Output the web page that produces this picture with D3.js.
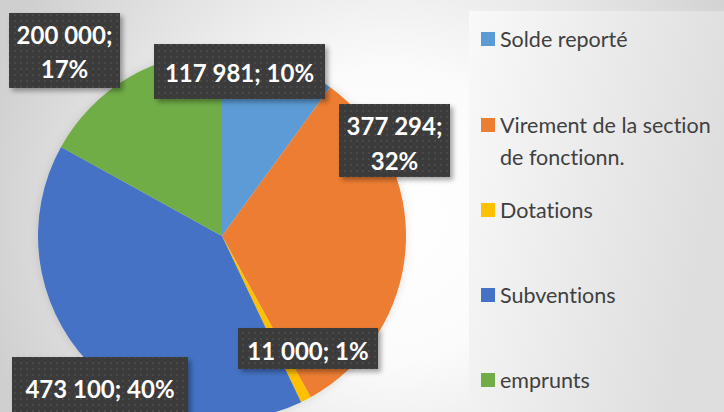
<!DOCTYPE html>
<html><head><meta charset="utf-8">
<script src="https://cdn.jsdelivr.net/npm/d3@7"></script>
<style>html,body{margin:0;padding:0;overflow:hidden;background:#fff} text{font-variant-ligatures:none;font-feature-settings:"liga" 0,"clig" 0}</style>
</head><body>
<script>
const categories = ["Solde reporté", "Virement de la section de fonctionn.", "Dotations", "Subventions", "emprunts"];
const legendLines = [["Solde reporté"], ["Virement de la section", "de fonctionn."], ["Dotations"], ["Subventions"], ["emprunts"]];
const values = [117981, 377294, 11000, 473100, 200000];
const valueLabels = ["117 981", "377 294", "11 000", "473 100", "200 000"];
const colors = ["#5B9BD5", "#ED7D31", "#FFC000", "#4472C4", "#70AD47"];

const W = 724, H = 412;
const svg = d3.select("body").append("svg").attr("width", W).attr("height", H);
const defs = svg.append("defs");

const rg = defs.append("radialGradient").attr("id", "bg").attr("gradientUnits", "userSpaceOnUse")
  .attr("cx", 390).attr("cy", 215).attr("r", 420);
rg.append("stop").attr("offset", "0%").attr("stop-color", "#ffffff");
rg.append("stop").attr("offset", "35%").attr("stop-color", "#fbfbfb");
rg.append("stop").attr("offset", "100%").attr("stop-color", "#cfcfcf");
svg.append("rect").attr("width", W).attr("height", H).attr("fill", "url(#bg)");

const lg = defs.append("linearGradient").attr("id", "lgp").attr("x1", "0").attr("x2", "1").attr("y1", "0").attr("y2", "0.3");
lg.append("stop").attr("offset", "0%").attr("stop-color", "#f9f9f9");
lg.append("stop").attr("offset", "100%").attr("stop-color", "#dedede");

const pat = defs.append("pattern").attr("id", "dots").attr("patternUnits", "userSpaceOnUse").attr("width", 6).attr("height", 6);
pat.append("rect").attr("width", 6).attr("height", 6).attr("fill", "#3b3b3b");
pat.append("rect").attr("x", 2).attr("y", 2).attr("width", 2).attr("height", 2).attr("fill", "#4a4a4a");

const sh = defs.append("filter").attr("id", "shadow").attr("x", "-20%").attr("y", "-20%").attr("width", "150%").attr("height", "160%");
sh.append("feDropShadow").attr("dx", 3).attr("dy", 3).attr("stdDeviation", 2.5).attr("flood-color", "#000").attr("flood-opacity", 0.35);
const psh = defs.append("filter").attr("id", "pshadow").attr("x", "-20%").attr("y", "-20%").attr("width", "140%").attr("height", "140%");
psh.append("feDropShadow").attr("dx", 0).attr("dy", 0).attr("stdDeviation", 4).attr("flood-color", "#000").attr("flood-opacity", 0.12);

// legend panel
svg.append("rect").attr("x", 469).attr("y", 11).attr("width", W - 469).attr("height", H - 11).attr("fill", "url(#lgp)");

// pie
const cx = 222, cy = 236, R = 184;
const total = d3.sum(values);
const pie = d3.pie().sort(null).value(d => d)(values);
const arc = d3.arc().innerRadius(0).outerRadius(R);
const g = svg.append("g").attr("transform", `translate(${cx},${cy})`).attr("filter", "url(#pshadow)");
g.selectAll("path").data(pie).join("path").attr("d", arc).attr("fill", (d, i) => colors[i]);

// labels
const font = "Lato, 'Open Sans', sans-serif";
const pct = d3.format(".0%");
const labelSpecs = [
  {lines: [valueLabels[0] + "; " + pct(values[0] / total)], box: [154, 44, 171, 55]},
  {lines: [valueLabels[1] + ";", pct(values[1] / total)], box: [339, 104, 111, 73]},
  {lines: [valueLabels[2] + "; " + pct(values[2] / total)], box: [238, 328, 140, 41]},
  {lines: [valueLabels[3] + "; " + pct(values[3] / total)], box: [12, 357, 176, 62]},
  {lines: [valueLabels[4] + ";", pct(values[4] / total)], box: [9, 13, 111, 75]}
];
const lineCenters = [[72], [125, 160], [350], [388], [34, 68]];
labelSpecs.forEach((s, i) => {
  const [x, y, w, h] = s.box;
  const lgp = svg.append("g");
  lgp.append("rect").attr("x", x).attr("y", y).attr("width", w).attr("height", h)
    .attr("fill", "url(#dots)").attr("filter", "url(#shadow)");
  s.lines.forEach((t, j) => {
    lgp.append("text").attr("x", x + w / 2).attr("y", lineCenters[i][j])
      .attr("text-anchor", "middle").attr("dominant-baseline", "central")
      .attr("font-family", font).attr("font-weight", "bold").attr("font-size", 24)
      .attr("fill", "#ffffff").text(t);
  });
});

// legend
const legY = [39, 125, 210, 295, 380];
legendLines.forEach((lines, i) => {
  const lgI = svg.append("g");
  lgI.append("rect").attr("x", 481).attr("y", legY[i] - 7).attr("width", 14).attr("height", 14).attr("fill", colors[i]);
  lines.forEach((t, j) => {
    lgI.append("text").attr("x", 500).attr("y", legY[i] + j * 32).attr("dominant-baseline", "central")
      .attr("font-family", font).attr("font-size", 21.5).attr("fill", "#404040").text(t);
  });
});
</script>
</body></html>
